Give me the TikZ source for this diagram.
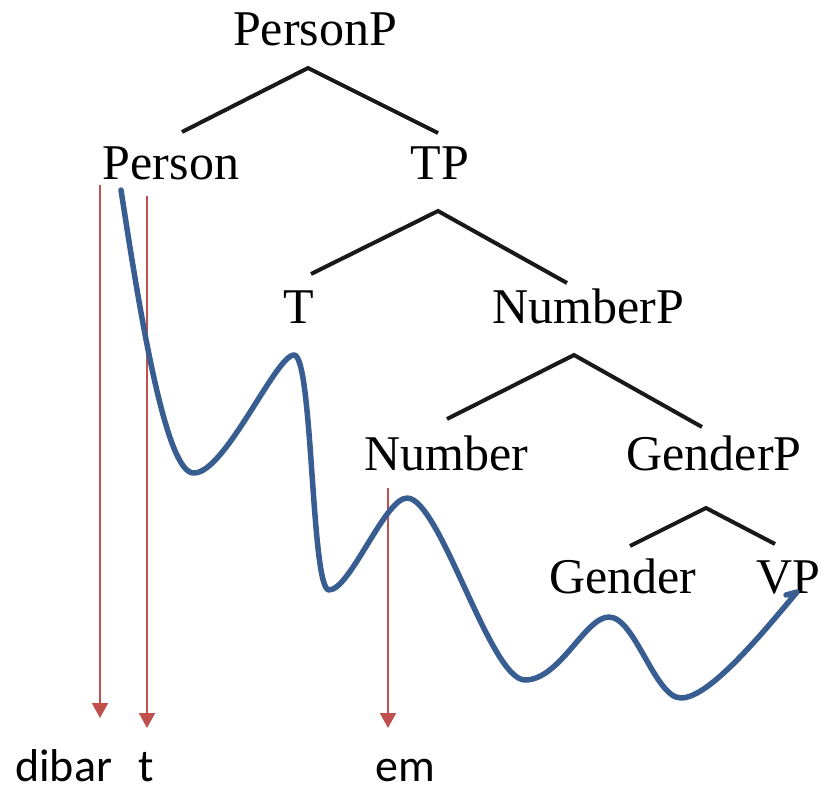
\documentclass[tikz,border=0pt]{standalone}
\usepackage{fontspec}
\setmainfont{Liberation Serif}
\newfontfamily\glossfont{Carlito}
\usetikzlibrary{arrows.meta}
\definecolor{redarrow}{RGB}{192,80,77}
\definecolor{bluecurve}{RGB}{56,93,145}
\tikzset{
  lbl/.style={anchor=base, inner sep=0pt, font=\fontsize{50}{60}\selectfont},
  gloss/.style={anchor=base west, inner sep=0pt, font=\glossfont\fontsize{46}{55}\selectfont},
  branch/.style={line width=4pt, black!90, line join=miter},
  redarr/.style={redarrow, line width=2pt, -{Triangle[width=16pt,length=15pt]}},
  wave/.style={bluecurve, line width=5.5pt, line cap=round, line join=round}
}
\begin{document}
\begin{tikzpicture}[x=1pt,y=-1pt]
\useasboundingbox (0,0) rectangle (827,787);
% tree labels
\node[lbl] (personp) at (315,45) {PersonP};
\node[lbl] (person) at (171,179) {Person};
\node[lbl] (tp) at (440,179) {TP};
\node[lbl] (t) at (299,323) {T};
\node[lbl] (numberp) at (588,323) {NumberP};
\node[lbl] (number) at (446,470) {Number};
\node[lbl] (genderp) at (714,470) {GenderP};
\node[lbl] (gender) at (623,593) {Gender};
\node[lbl] (vp) at (788,593) {VP};
% branch points
\coordinate (a1) at (308,68);
\coordinate (a1l) at (182,132);
\coordinate (a1r) at (438,133);
\coordinate (a2) at (438,211);
\coordinate (a2l) at (311,274);
\coordinate (a2r) at (567,283);
\coordinate (a3) at (574,355);
\coordinate (a3l) at (447,419);
\coordinate (a3r) at (702,427);
\coordinate (a4) at (706,508);
\coordinate (a4l) at (630,546);
\coordinate (a4r) at (775,544);
\draw[branch] (a1l) -- (a1) -- (a1r);
\draw[branch] (a2l) -- (a2) -- (a2r);
\draw[branch] (a3l) -- (a3) -- (a3r);
\draw[branch] (a4l) -- (a4) -- (a4r);
% gloss
\node[gloss] (dibar) at (15,781) {dibar};
\node[gloss] (tt) at (138,781) {t};
\node[gloss] (em) at (375,781) {em};
% red arrows
\coordinate (r1s) at (100,185);
\coordinate (r1e) at (100,718);
\coordinate (r2s) at (147,196);
\coordinate (r2e) at (147,728);
\coordinate (r3s) at (388,488);
\coordinate (r3e) at (388,728);
\draw[redarr] (r1s) -- (r1e);
\draw[redarr] (r2s) -- (r2e);
\draw[redarr] (r3s) -- (r3e);
% blue wave
\coordinate (w0) at (121,190);
\coordinate (w1) at (194,473);
\coordinate (w2) at (294,355);
\coordinate (w3) at (329,590);
\coordinate (w4) at (407,498);
\coordinate (w5) at (525,680);
\coordinate (w6) at (609,617);
\coordinate (w7) at (681,698);
\coordinate (w8) at (797,592);
\coordinate (w9) at (786,595);
\draw[wave] (w0)
  .. controls (138,300) and (165,475) .. (w1)
  .. controls (225,473) and (276,355) .. (w2)
  .. controls (313,355) and (311,590) .. (w3)
  .. controls (350,590) and (385,498) .. (w4)
  .. controls (440,498) and (490,680) .. (w5)
  .. controls (560,680) and (585,617) .. (w6)
  .. controls (635,617) and (655,698) .. (w7)
  .. controls (710,698) and (765,630) .. (w8)
  -- (w9);
\end{tikzpicture}
\end{document}
